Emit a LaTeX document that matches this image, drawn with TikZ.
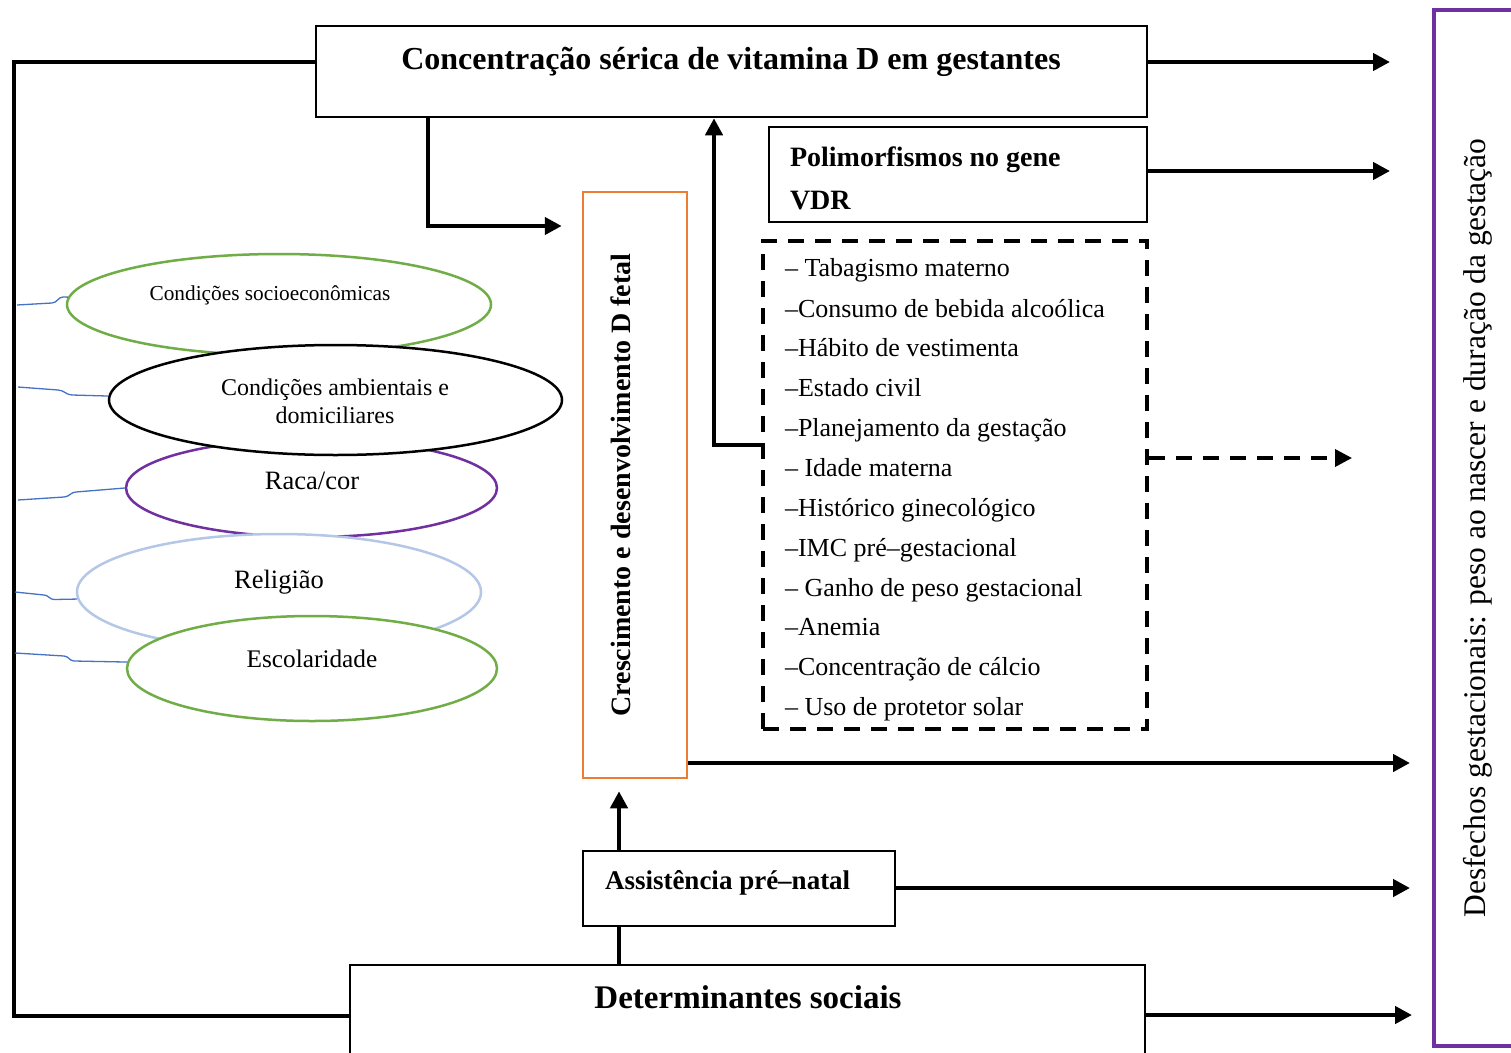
\documentclass[tikz,border=0pt]{standalone}
\usepackage{fontspec}
\setmainfont{Liberation Serif}
\usetikzlibrary{arrows.meta,shapes.geometric}
\definecolor{cgreen}{HTML}{70AD47}
\definecolor{cpurple}{HTML}{7030A0}
\definecolor{clblue}{HTML}{B4C7E7}
\definecolor{corange}{HTML}{ED7D31}
\definecolor{cblue}{HTML}{4472C4}
\newcommand\fsList{\fontsize{26}{30}\selectfont}
\newcommand\fsBold{\fontsize{28}{32}\selectfont\bfseries}
\newcommand\fsBig{\fontsize{32}{36}\selectfont\bfseries}
\begin{document}
\begin{tikzpicture}[x=1pt,y=-1pt,
  box/.style={draw, line width=2.5pt, rectangle, inner sep=0pt},
  ell/.style={draw, line width=2.5pt, ellipse, fill=white, inner sep=0pt},
  txt/.style={inner sep=0pt, outer sep=0pt},
  arr/.style={line width=4.5pt, -{Triangle[length=17pt,width=17pt]}},
  plain/.style={line width=4.5pt},
  bl/.style={cblue, line width=1.3pt},
  dashbox/.style={draw, line width=3.5pt, dash pattern=on 16pt off 11pt, inner sep=0pt}]
\clip (0,0) rectangle (1511,1052);
\fill[white] (0,0) rectangle (1511,1052);

% boxes
\node[box, minimum width=831pt, minimum height=91pt] (top) at (731.5,71.5) {};
\node[txt, anchor=base, font=\fsBig] (toptxt) at (731,69) {Concentração sérica de vitamina D em gestantes};

\node[box, minimum width=378pt, minimum height=95pt] (poly) at (958,174.5) {};
\node[txt, anchor=base west, font=\fsBold] (polyA) at (790,166) {Polimorfismos no gene};
\node[txt, anchor=base west, font=\fsBold] (polyB) at (790,209) {VDR};

\node[dashbox, minimum width=384pt, minimum height=488pt] (dash) at (955,485) {};
\foreach \t/\y [count=\i] in {{– Tabagismo materno}/276, {–Consumo de bebida alcoólica}/317, {–Hábito de vestimenta}/356, {–Estado civil}/396, {–Planejamento da gestação}/436, {– Idade materna}/476, {–Histórico ginecológico}/516, {–IMC pré–gestacional}/556, {– Ganho de peso gestacional}/596, {–Anemia}/635, {–Concentração de cálcio}/675, {– Uso de protetor solar}/715}
  \node[txt, anchor=base west, font=\fsList] (li\i) at (785,\y) {\t};

\node[box, draw=corange, minimum width=104pt, minimum height=586pt] (fetal) at (635,485) {};
\node[txt, rotate=90, font=\fsBold] (fetaltxt) at (621,485) {Crescimento e desenvolvimento D fetal};

\node[box, minimum width=312pt, minimum height=75pt] (assist) at (739,888.5) {};
\node[txt, anchor=base west, font=\fontsize{27}{31}\selectfont\bfseries] (assisttxt) at (605,889) {Assistência pré–natal};

\node[box, minimum width=795pt, minimum height=150pt] (soc) at (747.5,1040) {};
\node[txt, anchor=base, font=\fontsize{33}{37}\selectfont\bfseries] (soctxt) at (748,1008) {Determinantes sociais};

\node[box, draw=cpurple, line width=4pt, minimum width=110pt, minimum height=1036pt] (out) at (1489,528) {};
\node[txt, rotate=90, font=\fontsize{31.5}{35}\selectfont] (outtxt) at (1478,528) {Desfechos gestacionais: peso ao nascer e duração da gestação};

% ellipses
\node[ell, draw=cgreen, minimum width=424pt, minimum height=101pt] (e1) at (279,304.5) {};
\node[txt, anchor=base, font=\fontsize{21.3}{25}\selectfont] (e1t) at (270,300) {Condições socioeconômicas};
\node[ell, draw=cpurple, minimum width=371pt, minimum height=98pt] (e3) at (311.5,488) {};
\node[txt, anchor=base, font=\fontsize{26.5}{30}\selectfont] (e3t) at (312,489) {Raca/cor};
\node[ell, draw=black, minimum width=453pt, minimum height=110pt] (e2) at (335.5,400) {};
\node[txt, anchor=base, font=\fontsize{24}{28}\selectfont] (e2t) at (335,395) {Condições ambientais e};
\node[txt, anchor=base, font=\fontsize{24}{28}\selectfont] (e2u) at (335,423) {domiciliares};
\node[ell, draw=clblue, minimum width=404pt, minimum height=116pt] (e4) at (279,592) {};
\node[txt, anchor=base, font=\fontsize{26.5}{30}\selectfont] (e4t) at (279,588) {Religião};
\node[ell, draw=cgreen, minimum width=370pt, minimum height=105pt] (e5) at (312,668.5) {};
\node[txt, anchor=base, font=\fontsize{25.3}{29}\selectfont] (e5t) at (312,667) {Escolaridade};

% left frame
\coordinate (lt) at (14,62);
\coordinate (lb) at (14,1016);
\draw[plain] (top.west |- lt) -- (lt) -- (lb) -- (soc.west |- lb);

% blue brace connectors
\draw[bl] (17,305) -- (52,303) to[out=0,in=180] (63,297) -- (e1.178);
\draw[bl] (18,387) -- (58,390) to[out=0,in=180] (72,395) -- (e2.179);
\draw[bl] (18,500) -- (64,497) to[out=0,in=180] (76,492) -- (e3.west);
\draw[bl] (15,592) -- (44,595) to[out=0,in=180] (54,599.5) -- (e4.182);
\draw[bl] (15,653) -- (64,656) to[out=0,in=180] (74,661) -- (e5.178);

% connectors
\coordinate (k1) at (428,226);
\draw[arr] (top.south -| k1) -- (k1) -- ([xshift=-20pt]fetal.west |- k1);
\coordinate (k2) at (714,445);
\draw[arr] (dash.west |- k2) -- (k2) -- (top.south -| k2);
\coordinate (o1) at (1390,62);
\draw[arr] (top.east |- o1) -- (o1);
\coordinate (o2) at (1390,171);
\draw[arr] (poly.east |- o2) -- (o2);
\coordinate (o3) at (1352,458);
\draw[arr, line width=3.5pt, dash pattern=on 16pt off 11pt] (dash.east |- o3) -- (o3);
\coordinate (o4) at (1410,763);
\draw[arr] (fetal.east |- o4) -- (o4);
\coordinate (o5) at (1410,888);
\draw[arr] (assist.east |- o5) -- (o5);
\coordinate (o6) at (1412,1015);
\draw[arr] (soc.east |- o6) -- (o6);
\coordinate (k3) at (619,900);
\draw[arr] (assist.north -| k3) -- ([yshift=-12pt]fetal.south -| k3);
\draw[plain] (assist.south -| k3) -- (soc.north -| k3);
\end{tikzpicture}
\end{document}
